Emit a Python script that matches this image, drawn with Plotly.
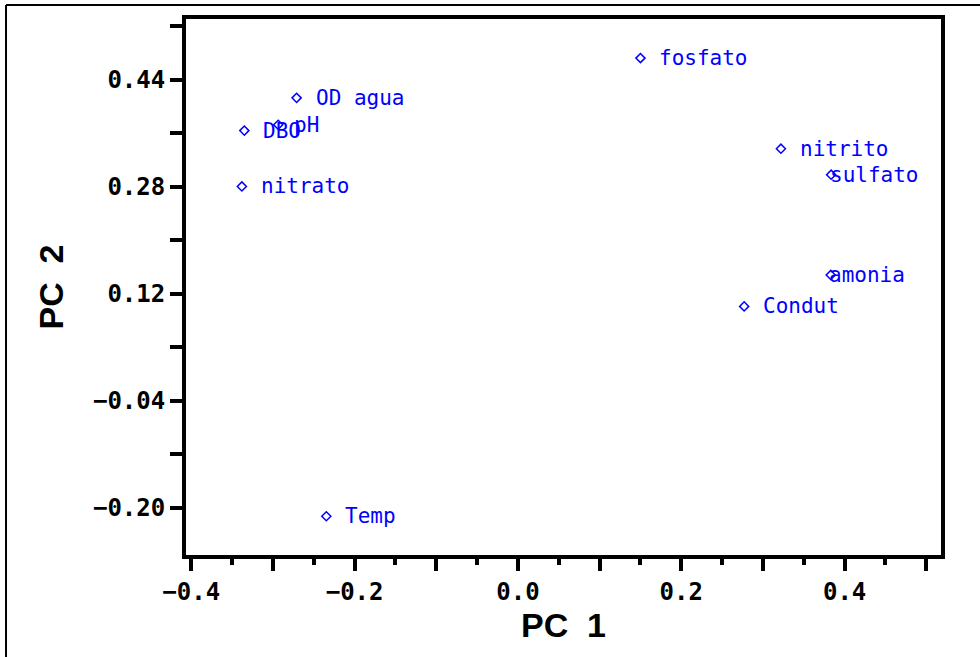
import plotly.graph_objects as go

labels = ["fosfato", "OD agua", "DBO", "pH", "nitrato", "nitrito", "sulfato", "amonia", "Condut", "Temp"]
pc1 = [0.150, -0.271, -0.335, -0.2935, -0.338, 0.322, 0.3835, 0.383, 0.277, -0.2346]
pc2 = [0.4725, 0.413, 0.364, 0.3727, 0.2805, 0.337, 0.298, 0.148, 0.101, -0.213]
# horizontal label offsets in px (labels near the right edge were pulled inside the plot)
label_shift = [17, 17, 17, 14, 17, 17, -3, -4, 17, 17]

x_major = [-0.4, -0.3, -0.2, -0.1, 0.0, 0.1, 0.2, 0.3, 0.4, 0.5]
x_text = ["\u22120.4", "", "\u22120.2", "", "0.0", "", "0.2", "", "0.4", ""]
y_ticks = [-0.20, -0.12, -0.04, 0.04, 0.12, 0.20, 0.28, 0.36, 0.44, 0.52]
y_text = ["\u22120.20", "", "\u22120.04", "", "0.12", "", "0.28", "", "0.44", ""]

BLUE = "#0000ff"
tick_font = dict(family="DejaVu Sans Mono", size=24, color="black", weight="bold")
label_font = dict(family="DejaVu Sans Mono", size=21, color=BLUE)
title_font = dict(family="Liberation Sans", size=34, color="black", weight="bold")

fig = go.Figure()
fig.add_trace(go.Scatter(
    x=pc1, y=pc2, mode="markers",
    marker=dict(symbol="diamond-open", size=7, color=BLUE, line=dict(width=1.5, color=BLUE)),
    hoverinfo="text", text=labels, showlegend=False,
))

for lab, xv, yv, sh in zip(labels, pc1, pc2, label_shift):
    fig.add_annotation(x=xv, y=yv, text=lab, showarrow=False, xanchor="left",
                       yanchor="middle", xshift=sh, font=label_font)

fig.update_xaxes(
    range=[-0.4064, 0.518], showline=True, linewidth=4, linecolor="black", mirror=True,
    ticks="outside", ticklen=12, tickwidth=4, tickcolor="black",
    tickmode="array", tickvals=x_major, ticktext=x_text, tickfont=tick_font,
    minor=dict(tickmode="linear", tick0=0.05, dtick=0.1, ticks="outside", ticklen=6, tickwidth=4, tickcolor="black"),
    showgrid=False, zeroline=False,
    title=dict(text="PC\u00a0\u00a01", font=title_font, standoff=0),
)
fig.update_yaxes(
    range=[-0.271, 0.531], showline=True, linewidth=4, linecolor="black", mirror=True,
    ticks="outside", ticklen=12, tickwidth=4, tickcolor="black",
    tickmode="array", tickvals=y_ticks, ticktext=y_text, tickfont=tick_font,
    showgrid=False, zeroline=False,
    title=dict(text="PC\u00a0\u00a02", font=title_font, standoff=20),
)

# outer frame (left and top edges visible)
fig.add_shape(type="line", xref="paper", yref="paper", x0=-0.2384, x1=-0.2384, y0=-0.25, y1=1.0261,
              line=dict(color="black", width=2))
fig.add_shape(type="line", xref="paper", yref="paper", x0=-0.2384, x1=1.1, y0=1.0261, y1=1.0261,
              line=dict(color="black", width=2))

fig.update_layout(
    width=980, height=657,
    margin=dict(l=186, r=39, t=19, b=102, autoexpand=False),
    paper_bgcolor="white", plot_bgcolor="white",
    showlegend=False,
)

fig.write_html("out.html", config={"displayModeBar": False},
               post_script="document.body.style.margin='0';document.body.style.overflow='hidden';")
